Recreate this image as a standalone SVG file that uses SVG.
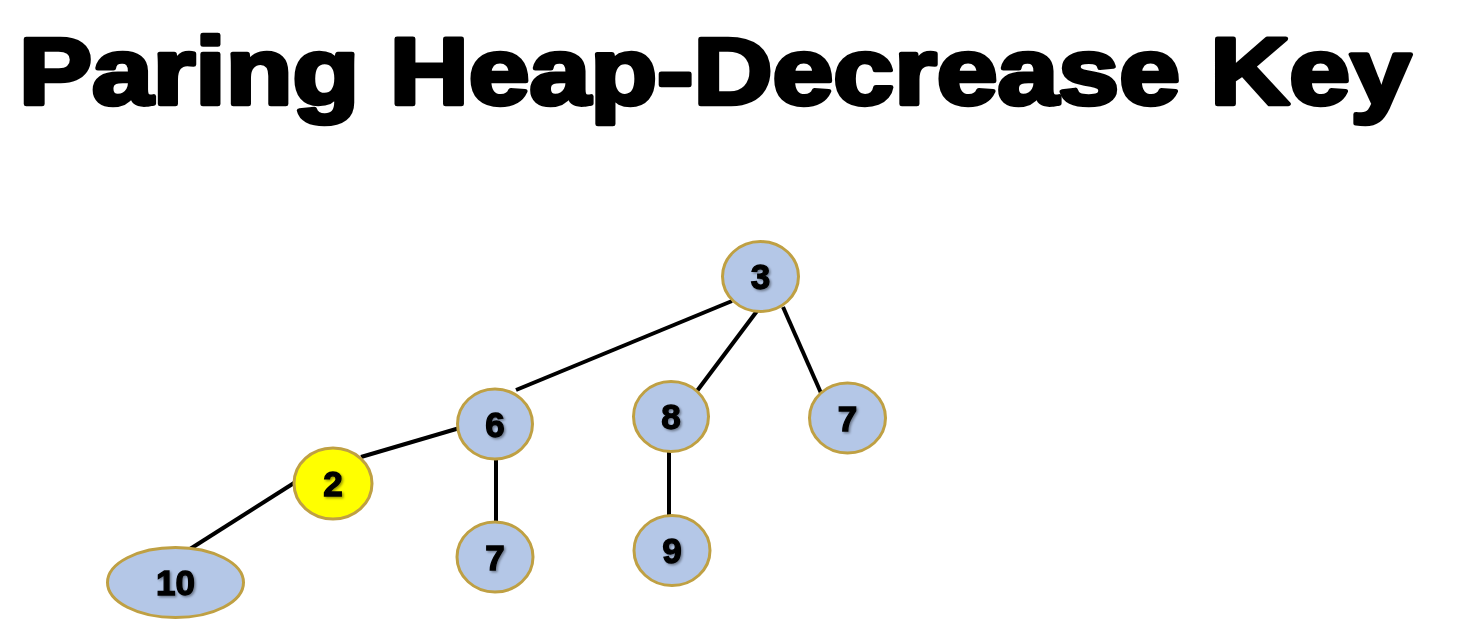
<svg xmlns="http://www.w3.org/2000/svg" width="1471" height="633" viewBox="0 0 1471 633">
<style>
.title{font-family:"Liberation Sans",Arial,sans-serif;font-weight:900;font-size:95px;fill:#000;stroke:#000;stroke-width:4.5;stroke-linejoin:round}
.node ellipse{fill:#B4C7E7;stroke:#BFA043;stroke-width:3}
.node.hl ellipse{fill:#FFFF00}
.node text{font-family:"Liberation Sans",Arial,sans-serif;font-weight:bold;font-size:35px;fill:#000;stroke:#000;stroke-width:1.3;text-anchor:middle;dominant-baseline:central;filter:url(#sh)}
.edges line{stroke:#000;stroke-width:4}
</style>
<defs>
<filter id="sh" x="-30%" y="-30%" width="160%" height="160%">
<feDropShadow dx="1.5" dy="1.5" stdDeviation="1" flood-color="#000" flood-opacity="0.4"/>
</filter>
</defs>
<rect width="1471" height="633" fill="#fff"/>
<text class="title" x="19" y="104" textLength="1392" lengthAdjust="spacingAndGlyphs">Paring Heap-Decrease Key</text>
<g class="edges" id="connectors">
<line x1="732" y1="301" x2="516" y2="390"/>
<line x1="760" y1="307" x2="697" y2="391"/>
<line x1="783" y1="307" x2="821" y2="393"/>
<line x1="463" y1="427" x2="361" y2="457"/>
<line x1="496" y1="459" x2="496" y2="522"/>
<line x1="669" y1="452" x2="669" y2="515"/>
<line x1="294" y1="483" x2="190" y2="549"/>
</g>
<g class="node" id="n3"><ellipse cx="760.5" cy="276.5" rx="38" ry="35"/><text x="760.5" y="276.5">3</text></g>
<g class="node" id="n6"><ellipse cx="495" cy="424" rx="37.5" ry="35"/><text x="495" y="424">6</text></g>
<g class="node" id="n8"><ellipse cx="671" cy="416.5" rx="37.5" ry="35"/><text x="671" y="416.5">8</text></g>
<g class="node" id="n7a"><ellipse cx="847.5" cy="418" rx="38" ry="35"/><text x="847.5" y="418">7</text></g>
<g class="node hl" id="n2"><ellipse cx="333" cy="483.5" rx="39" ry="35.5"/><text x="333" y="483.5">2</text></g>
<g class="node" id="n7b"><ellipse cx="495" cy="557" rx="38" ry="35"/><text x="495" y="557">7</text></g>
<g class="node" id="n9"><ellipse cx="672" cy="550.5" rx="38" ry="35"/><text x="672" y="550.5">9</text></g>
<g class="node" id="n10"><ellipse cx="175.5" cy="582.5" rx="68" ry="35"/><text x="175.5" y="582.5">10</text></g>
</svg>
